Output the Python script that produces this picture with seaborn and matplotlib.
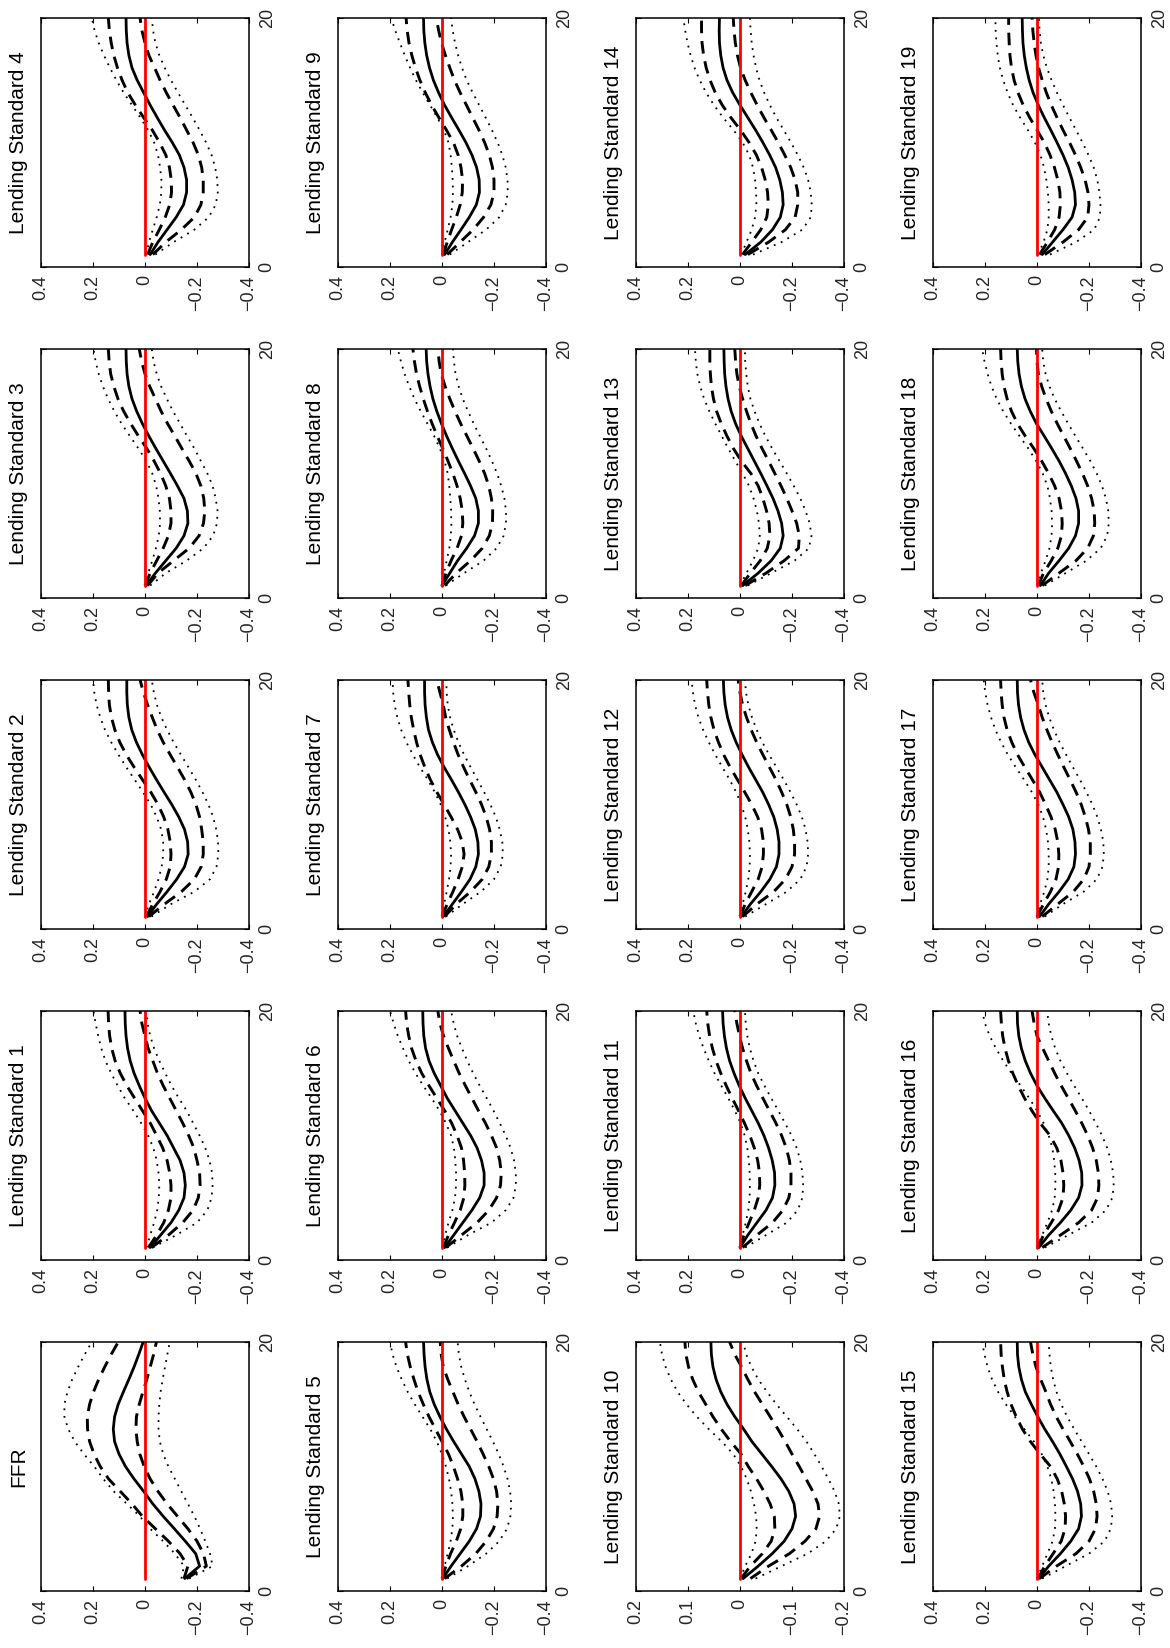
import matplotlib
matplotlib.use('Agg')
import matplotlib.pyplot as plt
import seaborn as sns

# impulse responses, horizons 1..20, panel order: FFR, Lending Standard 1..19
panel_titles = ['FFR'] + ['Lending Standard %d' % i for i in range(1, 20)]
horizon = list(range(1, 21))
zero_line = [0.0] * len(horizon)

value_ticks = [0.4, 0.2, 0, -0.2, -0.4]
value_labels = ['0.4', '0.2', '0', '\u22120.2', '\u22120.4']
small_ticks = [0.2, 0.1, 0, -0.1, -0.2]
small_labels = ['0.2', '0.1', '0', '\u22120.1', '\u22120.2']
horizon_ticks = [0, 20]
horizon_labels = ['0', '20']
small_scale_panels = ['Lending Standard 10']

median_irf = [
    [-0.153, -0.21, -0.195, -0.155, -0.113, -0.07, -0.03, 0.005, 0.042, 0.075, 0.1, 0.117, 0.122, 0.117, 0.103, 0.083, 0.062, 0.042, 0.024, 0.007],
    [-0.02, -0.06, -0.10, -0.13, -0.15, -0.155, -0.15, -0.135, -0.11, -0.085, -0.055, -0.025, 0.0, 0.022, 0.042, 0.057, 0.067, 0.073, 0.076, 0.077],
    [-0.01, -0.045, -0.085, -0.122, -0.152, -0.166, -0.164, -0.152, -0.13, -0.103, -0.073, -0.044, -0.016, 0.01, 0.033, 0.051, 0.062, 0.068, 0.07, 0.07],
    [-0.005, -0.04, -0.08, -0.12, -0.15, -0.165, -0.163, -0.15, -0.125, -0.098, -0.07, -0.042, -0.015, 0.01, 0.032, 0.05, 0.062, 0.069, 0.072, 0.073],
    [-0.02, -0.05, -0.085, -0.12, -0.148, -0.16, -0.16, -0.15, -0.132, -0.105, -0.075, -0.047, -0.02, 0.005, 0.03, 0.05, 0.062, 0.069, 0.072, 0.073],
    [-0.003, -0.035, -0.07, -0.105, -0.133, -0.148, -0.15, -0.142, -0.127, -0.105, -0.075, -0.045, -0.017, 0.008, 0.03, 0.047, 0.058, 0.065, 0.069, 0.071],
    [-0.01, -0.045, -0.08, -0.115, -0.145, -0.162, -0.162, -0.152, -0.135, -0.11, -0.08, -0.05, -0.02, 0.005, 0.03, 0.05, 0.063, 0.07, 0.073, 0.074],
    [-0.005, -0.04, -0.075, -0.108, -0.13, -0.14, -0.138, -0.128, -0.11, -0.088, -0.063, -0.036, -0.008, 0.017, 0.037, 0.052, 0.06, 0.065, 0.067, 0.067],
    [0.0, -0.03, -0.06, -0.095, -0.125, -0.14, -0.14, -0.13, -0.11, -0.087, -0.063, -0.04, -0.018, 0.002, 0.02, 0.035, 0.046, 0.054, 0.059, 0.061],
    [-0.01, -0.04, -0.073, -0.105, -0.132, -0.144, -0.143, -0.133, -0.115, -0.092, -0.065, -0.037, -0.01, 0.013, 0.033, 0.048, 0.059, 0.066, 0.07, 0.071],
    [-0.006, -0.035, -0.062, -0.085, -0.1, -0.107, -0.104, -0.094, -0.079, -0.061, -0.042, -0.023, -0.007, 0.01, 0.025, 0.037, 0.046, 0.052, 0.055, 0.056],
    [0.0, -0.03, -0.065, -0.1, -0.125, -0.134, -0.133, -0.124, -0.11, -0.092, -0.07, -0.045, -0.02, 0.003, 0.023, 0.04, 0.052, 0.06, 0.065, 0.067],
    [-0.005, -0.04, -0.08, -0.115, -0.14, -0.15, -0.15, -0.143, -0.13, -0.11, -0.087, -0.06, -0.033, -0.008, 0.015, 0.034, 0.048, 0.057, 0.062, 0.064],
    [-0.01, -0.07, -0.12, -0.155, -0.166, -0.16, -0.146, -0.127, -0.104, -0.08, -0.055, -0.03, -0.005, 0.017, 0.034, 0.046, 0.054, 0.059, 0.061, 0.062],
    [-0.02, -0.08, -0.125, -0.155, -0.166, -0.163, -0.153, -0.137, -0.114, -0.088, -0.06, -0.03, 0.0, 0.028, 0.05, 0.065, 0.074, 0.079, 0.08, 0.079],
    [-0.007, -0.045, -0.09, -0.13, -0.16, -0.171, -0.168, -0.156, -0.137, -0.113, -0.088, -0.06, -0.03, -0.003, 0.022, 0.045, 0.06, 0.07, 0.075, 0.076],
    [-0.007, -0.045, -0.09, -0.13, -0.16, -0.173, -0.172, -0.162, -0.145, -0.122, -0.095, -0.062, -0.03, 0.0, 0.025, 0.045, 0.06, 0.07, 0.075, 0.076],
    [-0.01, -0.045, -0.085, -0.12, -0.142, -0.148, -0.146, -0.138, -0.122, -0.1, -0.076, -0.048, -0.02, 0.008, 0.032, 0.05, 0.063, 0.071, 0.075, 0.076],
    [-0.013, -0.045, -0.085, -0.122, -0.148, -0.16, -0.16, -0.15, -0.132, -0.11, -0.085, -0.057, -0.028, 0.002, 0.026, 0.046, 0.06, 0.069, 0.074, 0.076],
    [-0.02, -0.06, -0.1, -0.135, -0.148, -0.145, -0.135, -0.12, -0.1, -0.077, -0.053, -0.028, -0.005, 0.015, 0.03, 0.041, 0.049, 0.054, 0.056, 0.057],
]

band68_hi = [
    [-0.15, -0.165, -0.135, -0.09, -0.04, 0.01, 0.05, 0.095, 0.14, 0.172, 0.196, 0.213, 0.221, 0.222, 0.213, 0.198, 0.178, 0.155, 0.13, 0.103],
    [-0.013, -0.045, -0.072, -0.09, -0.10, -0.10, -0.095, -0.085, -0.068, -0.045, -0.02, 0.01, 0.04, 0.07, 0.095, 0.115, 0.128, 0.136, 0.14, 0.142],
    [-0.005, -0.03, -0.058, -0.082, -0.097, -0.1, -0.097, -0.088, -0.072, -0.05, -0.022, 0.01, 0.042, 0.072, 0.097, 0.116, 0.129, 0.137, 0.14, 0.141],
    [0.0, -0.02, -0.045, -0.07, -0.09, -0.1, -0.1, -0.094, -0.08, -0.06, -0.035, -0.007, 0.025, 0.055, 0.082, 0.104, 0.12, 0.132, 0.138, 0.141],
    [-0.01, -0.03, -0.055, -0.078, -0.095, -0.102, -0.101, -0.094, -0.08, -0.056, -0.028, 0.005, 0.037, 0.066, 0.088, 0.106, 0.12, 0.13, 0.137, 0.141],
    [0.0, -0.015, -0.033, -0.055, -0.072, -0.08, -0.08, -0.073, -0.06, -0.044, -0.025, 0.0, 0.025, 0.05, 0.072, 0.092, 0.108, 0.122, 0.133, 0.14],
    [-0.005, -0.025, -0.048, -0.07, -0.084, -0.088, -0.087, -0.083, -0.075, -0.058, -0.037, -0.01, 0.02, 0.05, 0.078, 0.1, 0.117, 0.128, 0.136, 0.14],
    [0.0, -0.02, -0.042, -0.062, -0.078, -0.085, -0.078, -0.06, -0.035, -0.008, 0.02, 0.045, 0.066, 0.084, 0.098, 0.109, 0.118, 0.124, 0.128, 0.131],
    [0.0, -0.015, -0.035, -0.058, -0.075, -0.08, -0.078, -0.07, -0.058, -0.042, -0.023, -0.003, 0.018, 0.038, 0.056, 0.072, 0.086, 0.098, 0.106, 0.112],
    [-0.005, -0.02, -0.037, -0.055, -0.07, -0.078, -0.079, -0.073, -0.062, -0.044, -0.017, 0.012, 0.04, 0.064, 0.085, 0.102, 0.116, 0.127, 0.134, 0.138],
    [-0.002, -0.02, -0.043, -0.06, -0.067, -0.066, -0.058, -0.046, -0.032, -0.016, -0.002, 0.018, 0.036, 0.052, 0.066, 0.08, 0.091, 0.099, 0.104, 0.106],
    [0.0, -0.015, -0.035, -0.055, -0.07, -0.076, -0.075, -0.068, -0.055, -0.038, -0.017, 0.006, 0.03, 0.053, 0.074, 0.092, 0.106, 0.117, 0.124, 0.128],
    [0.0, -0.02, -0.045, -0.07, -0.085, -0.09, -0.09, -0.083, -0.068, -0.045, -0.018, 0.01, 0.038, 0.063, 0.083, 0.1, 0.112, 0.12, 0.125, 0.128],
    [-0.005, -0.04, -0.078, -0.105, -0.115, -0.112, -0.102, -0.088, -0.07, -0.042, -0.005, 0.025, 0.05, 0.072, 0.09, 0.102, 0.11, 0.114, 0.116, 0.116],
    [-0.01, -0.045, -0.08, -0.103, -0.109, -0.106, -0.097, -0.083, -0.063, -0.035, -0.002, 0.035, 0.068, 0.095, 0.115, 0.13, 0.14, 0.146, 0.148, 0.148],
    [-0.003, -0.03, -0.062, -0.093, -0.108, -0.11, -0.105, -0.095, -0.078, -0.052, -0.012, 0.025, 0.056, 0.08, 0.1, 0.115, 0.126, 0.133, 0.138, 0.14],
    [-0.003, -0.025, -0.055, -0.083, -0.1, -0.103, -0.1, -0.092, -0.076, -0.05, -0.012, 0.02, 0.048, 0.072, 0.093, 0.11, 0.123, 0.132, 0.137, 0.14],
    [0.0, -0.025, -0.052, -0.073, -0.083, -0.084, -0.08, -0.07, -0.054, -0.033, -0.01, 0.018, 0.047, 0.075, 0.097, 0.115, 0.127, 0.134, 0.138, 0.14],
    [-0.005, -0.025, -0.055, -0.08, -0.094, -0.097, -0.094, -0.085, -0.068, -0.045, -0.018, 0.012, 0.045, 0.075, 0.098, 0.115, 0.127, 0.134, 0.138, 0.14],
    [-0.01, -0.04, -0.068, -0.085, -0.09, -0.088, -0.08, -0.067, -0.05, -0.028, 0.0, 0.028, 0.053, 0.073, 0.088, 0.098, 0.104, 0.107, 0.109, 0.109],
]

band68_lo = [
    [-0.16, -0.236, -0.225, -0.2, -0.165, -0.125, -0.085, -0.05, -0.02, 0.003, 0.02, 0.03, 0.035, 0.033, 0.022, 0.008, -0.007, -0.02, -0.033, -0.044],
    [-0.025, -0.09, -0.145, -0.185, -0.205, -0.212, -0.21, -0.2, -0.188, -0.168, -0.145, -0.12, -0.095, -0.07, -0.048, -0.03, -0.012, 0.0, 0.012, 0.019],
    [-0.015, -0.075, -0.14, -0.19, -0.216, -0.224, -0.224, -0.218, -0.21, -0.196, -0.176, -0.152, -0.125, -0.097, -0.07, -0.047, -0.028, -0.01, 0.006, 0.019],
    [-0.01, -0.05, -0.11, -0.17, -0.208, -0.225, -0.23, -0.226, -0.215, -0.196, -0.17, -0.142, -0.115, -0.087, -0.062, -0.04, -0.018, 0.0, 0.013, 0.022],
    [-0.03, -0.08, -0.14, -0.19, -0.215, -0.224, -0.224, -0.218, -0.205, -0.185, -0.16, -0.135, -0.108, -0.082, -0.058, -0.037, -0.015, 0.0, 0.012, 0.019],
    [-0.01, -0.075, -0.13, -0.17, -0.198, -0.212, -0.215, -0.21, -0.198, -0.18, -0.158, -0.135, -0.11, -0.085, -0.062, -0.042, -0.022, -0.005, 0.003, 0.007],
    [-0.015, -0.075, -0.135, -0.18, -0.21, -0.225, -0.228, -0.222, -0.21, -0.19, -0.167, -0.14, -0.115, -0.09, -0.066, -0.045, -0.025, -0.006, 0.008, 0.016],
    [-0.01, -0.055, -0.11, -0.155, -0.18, -0.19, -0.19, -0.183, -0.17, -0.152, -0.13, -0.106, -0.083, -0.062, -0.044, -0.028, -0.014, -0.005, 0.008, 0.02],
    [-0.01, -0.055, -0.11, -0.155, -0.182, -0.194, -0.195, -0.19, -0.18, -0.164, -0.143, -0.12, -0.096, -0.072, -0.05, -0.03, -0.012, 0.003, 0.011, 0.016],
    [-0.02, -0.07, -0.12, -0.16, -0.188, -0.2, -0.2, -0.194, -0.182, -0.164, -0.142, -0.118, -0.094, -0.07, -0.048, -0.03, -0.013, 0.002, 0.013, 0.022],
    [-0.02, -0.055, -0.095, -0.125, -0.146, -0.153, -0.15, -0.14, -0.127, -0.114, -0.1, -0.087, -0.073, -0.058, -0.043, -0.028, -0.015, -0.003, 0.01, 0.02],
    [-0.01, -0.065, -0.125, -0.165, -0.188, -0.196, -0.196, -0.19, -0.178, -0.16, -0.138, -0.113, -0.088, -0.064, -0.042, -0.025, -0.01, 0.002, 0.012, 0.02],
    [-0.01, -0.065, -0.13, -0.175, -0.2, -0.21, -0.21, -0.205, -0.195, -0.18, -0.16, -0.138, -0.113, -0.088, -0.064, -0.043, -0.025, -0.01, 0.0, 0.007],
    [-0.02, -0.1, -0.17, -0.225, -0.228, -0.218, -0.2, -0.18, -0.158, -0.134, -0.11, -0.085, -0.062, -0.042, -0.025, -0.01, 0.003, 0.012, 0.017, 0.02],
    [-0.03, -0.11, -0.175, -0.212, -0.222, -0.222, -0.212, -0.195, -0.172, -0.147, -0.12, -0.092, -0.066, -0.042, -0.02, -0.002, 0.01, 0.018, 0.023, 0.026],
    [-0.01, -0.075, -0.15, -0.2, -0.225, -0.231, -0.228, -0.218, -0.202, -0.18, -0.155, -0.128, -0.1, -0.074, -0.052, -0.034, -0.014, 0.004, 0.016, 0.025],
    [-0.02, -0.09, -0.16, -0.21, -0.233, -0.238, -0.236, -0.228, -0.214, -0.195, -0.172, -0.147, -0.12, -0.093, -0.068, -0.045, -0.022, 0.0, 0.011, 0.019],
    [-0.02, -0.08, -0.14, -0.18, -0.2, -0.205, -0.205, -0.198, -0.186, -0.17, -0.15, -0.127, -0.103, -0.08, -0.058, -0.038, -0.02, -0.005, 0.012, 0.025],
    [-0.02, -0.085, -0.15, -0.195, -0.217, -0.222, -0.22, -0.21, -0.195, -0.175, -0.152, -0.128, -0.103, -0.078, -0.055, -0.035, -0.018, -0.005, 0.0, 0.002],
    [-0.03, -0.1, -0.16, -0.195, -0.2, -0.196, -0.185, -0.168, -0.148, -0.125, -0.1, -0.077, -0.055, -0.036, -0.02, -0.006, 0.004, 0.011, 0.016, 0.019],
]

band90_hi = [
    [-0.14, -0.15, -0.115, -0.07, -0.02, 0.02, 0.07, 0.12, 0.16, 0.195, 0.235, 0.27, 0.295, 0.31, 0.31, 0.298, 0.28, 0.257, 0.232, 0.205],
    [-0.006, -0.02, -0.035, -0.047, -0.053, -0.055, -0.052, -0.045, -0.032, -0.012, 0.015, 0.045, 0.078, 0.105, 0.13, 0.152, 0.168, 0.18, 0.19, 0.198],
    [0.0, -0.015, -0.035, -0.052, -0.064, -0.07, -0.07, -0.062, -0.045, -0.022, 0.008, 0.04, 0.072, 0.102, 0.13, 0.154, 0.172, 0.186, 0.195, 0.2],
    [0.0, -0.012, -0.028, -0.042, -0.053, -0.058, -0.057, -0.052, -0.043, -0.028, -0.005, 0.025, 0.058, 0.09, 0.118, 0.142, 0.162, 0.178, 0.19, 0.198],
    [-0.005, -0.015, -0.03, -0.045, -0.057, -0.063, -0.063, -0.058, -0.05, -0.035, -0.012, 0.018, 0.05, 0.082, 0.11, 0.135, 0.158, 0.178, 0.194, 0.205],
    [0.0, -0.01, -0.022, -0.033, -0.04, -0.042, -0.04, -0.035, -0.027, -0.015, 0.0, 0.02, 0.045, 0.075, 0.105, 0.132, 0.155, 0.175, 0.19, 0.2],
    [-0.002, -0.012, -0.025, -0.04, -0.05, -0.054, -0.054, -0.051, -0.046, -0.035, -0.015, 0.01, 0.04, 0.072, 0.102, 0.128, 0.15, 0.17, 0.186, 0.2],
    [0.0, -0.008, -0.018, -0.027, -0.033, -0.035, -0.032, -0.025, -0.012, 0.005, 0.028, 0.055, 0.085, 0.112, 0.137, 0.157, 0.172, 0.182, 0.188, 0.19],
    [0.0, -0.008, -0.018, -0.028, -0.034, -0.036, -0.035, -0.032, -0.028, -0.022, -0.01, 0.008, 0.03, 0.056, 0.082, 0.106, 0.126, 0.144, 0.158, 0.17],
    [0.0, -0.01, -0.022, -0.033, -0.04, -0.042, -0.041, -0.038, -0.033, -0.025, -0.007, 0.018, 0.046, 0.074, 0.1, 0.123, 0.143, 0.162, 0.18, 0.195],
    [0.0, -0.01, -0.022, -0.03, -0.032, -0.031, -0.027, -0.021, -0.013, -0.002, 0.013, 0.035, 0.06, 0.083, 0.103, 0.12, 0.133, 0.143, 0.15, 0.154],
    [0.0, -0.01, -0.022, -0.032, -0.037, -0.038, -0.037, -0.034, -0.028, -0.018, -0.002, 0.02, 0.045, 0.072, 0.098, 0.12, 0.14, 0.157, 0.17, 0.18],
    [0.0, -0.01, -0.022, -0.032, -0.037, -0.038, -0.036, -0.03, -0.02, -0.005, 0.015, 0.04, 0.068, 0.095, 0.12, 0.142, 0.16, 0.173, 0.181, 0.186],
    [0.0, -0.025, -0.05, -0.07, -0.076, -0.073, -0.065, -0.052, -0.035, -0.01, 0.018, 0.045, 0.07, 0.095, 0.118, 0.138, 0.153, 0.164, 0.17, 0.173],
    [-0.005, -0.025, -0.045, -0.058, -0.063, -0.062, -0.058, -0.05, -0.035, -0.01, 0.025, 0.065, 0.1, 0.13, 0.155, 0.175, 0.19, 0.202, 0.211, 0.218],
    [0.0, -0.02, -0.04, -0.06, -0.069, -0.071, -0.069, -0.064, -0.055, -0.04, -0.018, 0.012, 0.048, 0.085, 0.12, 0.15, 0.173, 0.19, 0.202, 0.211],
    [0.0, -0.02, -0.04, -0.058, -0.068, -0.071, -0.07, -0.066, -0.059, -0.045, -0.025, 0.0, 0.03, 0.063, 0.098, 0.13, 0.158, 0.182, 0.2, 0.211],
    [0.0, -0.012, -0.028, -0.04, -0.045, -0.045, -0.042, -0.035, -0.023, -0.005, 0.02, 0.05, 0.082, 0.112, 0.138, 0.16, 0.177, 0.19, 0.199, 0.205],
    [0.0, -0.015, -0.033, -0.048, -0.056, -0.058, -0.056, -0.05, -0.04, -0.022, 0.003, 0.033, 0.067, 0.1, 0.13, 0.155, 0.175, 0.19, 0.202, 0.211],
    [-0.005, -0.025, -0.04, -0.045, -0.045, -0.042, -0.036, -0.027, -0.013, 0.008, 0.035, 0.065, 0.092, 0.113, 0.13, 0.143, 0.151, 0.156, 0.159, 0.16],
]

band90_lo = [
    [-0.17, -0.26, -0.25, -0.232, -0.212, -0.19, -0.165, -0.14, -0.115, -0.09, -0.07, -0.057, -0.052, -0.052, -0.055, -0.06, -0.068, -0.077, -0.086, -0.095],
    [-0.03, -0.12, -0.2, -0.24, -0.256, -0.26, -0.258, -0.248, -0.232, -0.21, -0.185, -0.16, -0.13, -0.102, -0.078, -0.055, -0.035, -0.02, -0.01, -0.006],
    [-0.025, -0.1, -0.19, -0.25, -0.275, -0.282, -0.281, -0.274, -0.262, -0.244, -0.221, -0.195, -0.167, -0.138, -0.11, -0.085, -0.063, -0.046, -0.034, -0.026],
    [-0.02, -0.08, -0.16, -0.225, -0.262, -0.277, -0.279, -0.272, -0.26, -0.24, -0.215, -0.19, -0.162, -0.135, -0.108, -0.084, -0.062, -0.045, -0.033, -0.026],
    [-0.04, -0.11, -0.19, -0.245, -0.272, -0.28, -0.278, -0.27, -0.256, -0.235, -0.21, -0.183, -0.155, -0.127, -0.1, -0.076, -0.055, -0.04, -0.031, -0.026],
    [-0.02, -0.1, -0.17, -0.22, -0.25, -0.263, -0.266, -0.262, -0.252, -0.237, -0.218, -0.196, -0.172, -0.148, -0.125, -0.105, -0.088, -0.074, -0.065, -0.06],
    [-0.02, -0.1, -0.19, -0.245, -0.275, -0.284, -0.284, -0.277, -0.264, -0.245, -0.222, -0.198, -0.172, -0.145, -0.12, -0.097, -0.077, -0.058, -0.045, -0.035],
    [-0.015, -0.08, -0.15, -0.2, -0.226, -0.234, -0.232, -0.222, -0.207, -0.186, -0.162, -0.136, -0.11, -0.085, -0.063, -0.045, -0.031, -0.022, -0.018, -0.016],
    [-0.015, -0.085, -0.16, -0.21, -0.237, -0.246, -0.246, -0.24, -0.228, -0.212, -0.192, -0.17, -0.146, -0.122, -0.1, -0.08, -0.064, -0.052, -0.046, -0.042],
    [-0.03, -0.1, -0.17, -0.22, -0.245, -0.253, -0.252, -0.245, -0.232, -0.214, -0.192, -0.168, -0.143, -0.118, -0.095, -0.077, -0.062, -0.05, -0.041, -0.035],
    [-0.03, -0.08, -0.13, -0.165, -0.185, -0.192, -0.19, -0.182, -0.17, -0.157, -0.143, -0.128, -0.11, -0.09, -0.07, -0.052, -0.035, -0.022, -0.012, -0.006],
    [-0.02, -0.1, -0.18, -0.222, -0.24, -0.243, -0.24, -0.232, -0.218, -0.198, -0.173, -0.147, -0.12, -0.094, -0.07, -0.052, -0.038, -0.028, -0.022, -0.019],
    [-0.02, -0.1, -0.18, -0.232, -0.256, -0.262, -0.26, -0.252, -0.238, -0.218, -0.194, -0.168, -0.14, -0.112, -0.086, -0.064, -0.046, -0.032, -0.023, -0.019],
    [-0.03, -0.12, -0.21, -0.265, -0.275, -0.268, -0.252, -0.232, -0.207, -0.18, -0.152, -0.124, -0.098, -0.075, -0.056, -0.04, -0.03, -0.024, -0.02, -0.019],
    [-0.05, -0.16, -0.24, -0.272, -0.276, -0.272, -0.262, -0.245, -0.222, -0.196, -0.168, -0.14, -0.115, -0.093, -0.075, -0.062, -0.052, -0.045, -0.041, -0.038],
    [-0.02, -0.11, -0.2, -0.26, -0.284, -0.289, -0.285, -0.272, -0.252, -0.228, -0.2, -0.172, -0.143, -0.116, -0.093, -0.075, -0.062, -0.053, -0.048, -0.045],
    [-0.03, -0.12, -0.21, -0.265, -0.29, -0.295, -0.293, -0.284, -0.27, -0.25, -0.226, -0.2, -0.172, -0.143, -0.115, -0.09, -0.07, -0.055, -0.045, -0.039],
    [-0.03, -0.1, -0.18, -0.23, -0.252, -0.257, -0.255, -0.246, -0.232, -0.213, -0.19, -0.165, -0.138, -0.112, -0.087, -0.065, -0.047, -0.033, -0.024, -0.02],
    [-0.03, -0.11, -0.19, -0.245, -0.27, -0.276, -0.274, -0.265, -0.25, -0.23, -0.205, -0.177, -0.148, -0.12, -0.093, -0.068, -0.048, -0.033, -0.024, -0.02],
    [-0.05, -0.15, -0.22, -0.242, -0.244, -0.24, -0.232, -0.218, -0.198, -0.175, -0.15, -0.125, -0.1, -0.077, -0.056, -0.038, -0.024, -0.015, -0.01, -0.007],
]


sns.set_theme(style='white')
plt.rcParams['font.family'] = ['Liberation Sans', 'DejaVu Sans']
plt.rcParams['axes.unicode_minus'] = True

W, H = 1170, 1648
fig = plt.figure(figsize=(W / 100, H / 100), dpi=100)

# the page is a 4x5 landscape grid turned a quarter turn, so each
# panel has the response on x (inverted) and the horizon going up
col_left = [41, 338, 636, 933]
row_top = [18, 349, 680, 1011, 1342]
box_w, box_h = 208, 249

dotted = (0, (1.0, 3.2))
dashed = (0, (4.3, 2.7))

for k, title in enumerate(panel_titles):
    r, c = divmod(k, 5)
    left = col_left[r]
    top = row_top[4 - c]
    ax = fig.add_axes([left / W, 1 - (top + box_h) / H, box_w / W, box_h / H])

    common = dict(y=horizon, sort=False, estimator=None, ax=ax)
    sns.lineplot(x=band90_hi[k], color='black', lw=1.3, linestyle=dotted, **common)
    sns.lineplot(x=band90_lo[k], color='black', lw=1.3, linestyle=dotted, **common)
    sns.lineplot(x=band68_hi[k], color='black', lw=2.1, linestyle=dashed, **common)
    sns.lineplot(x=band68_lo[k], color='black', lw=2.1, linestyle=dashed, **common)
    sns.lineplot(x=median_irf[k], color='black', lw=2.0, **common)
    sns.lineplot(x=zero_line, color='red', lw=2.0, **common)

    if title in small_scale_panels:
        ticks, labels = small_ticks, small_labels
    else:
        ticks, labels = value_ticks, value_labels
    ax.set_xlim(ticks[0], ticks[-1])
    ax.set_ylim(horizon_ticks[0], horizon_ticks[-1])
    ax.set_xticks(ticks)
    ax.set_xticklabels(labels, rotation=90, fontsize=13)
    ax.set_yticks(horizon_ticks)
    ax.set_yticklabels(horizon_labels, rotation=90, fontsize=13, va='center')
    ax.tick_params(axis='both', direction='in', length=3.5, width=0.8, color='black',
                   top=True, bottom=True, left=True, right=True,
                   labelleft=False, labelright=True, labelbottom=True)
    ax.tick_params(axis='x', pad=6)
    ax.tick_params(axis='y', pad=7)
    ax.set_xlabel('')
    ax.set_ylabel('')
    for sp in ax.spines.values():
        sp.set_color('black')
        sp.set_linewidth(1.1)

    ax.text(-13 / box_w, 0.5, title, transform=ax.transAxes, rotation=90,
            ha='right', va='center', fontsize=15, color='black')

fig.savefig('out.png', dpi=100, facecolor='white')
